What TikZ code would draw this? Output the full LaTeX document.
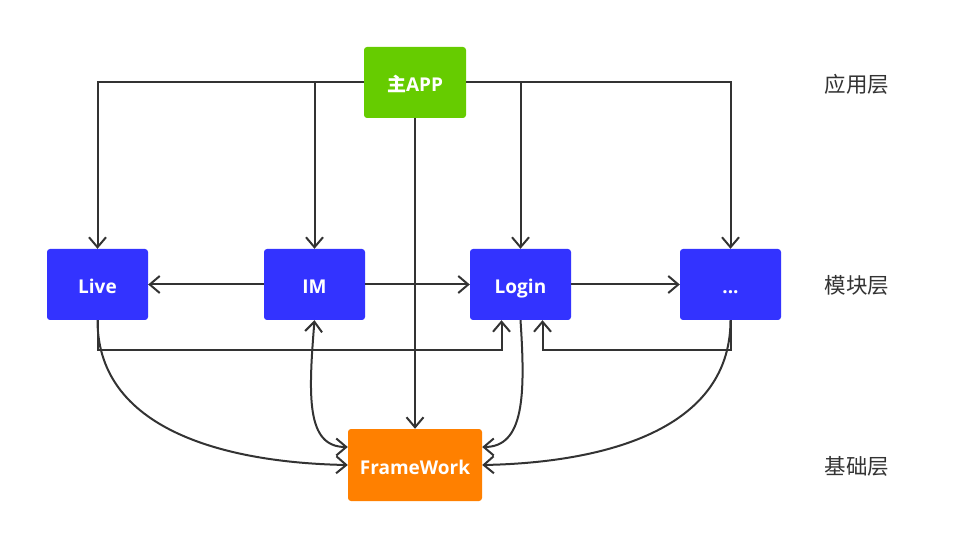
\documentclass[tikz,border=0pt]{standalone}
\usepackage{fontspec}
\setmainfont{Noto Sans CJK SC}
\newfontfamily\latinbold{Open Sans}
\usetikzlibrary{arrows.meta}
\definecolor{appgreen}{HTML}{66CC00}
\definecolor{modblue}{HTML}{3333FF}
\definecolor{fworange}{HTML}{FF8000}
\definecolor{linegray}{HTML}{333333}
\tikzset{
  box/.style={rounded corners=3pt, minimum width=101pt, minimum height=71pt, inner sep=0pt,
    text height=19pt, text depth=1pt,
    text=white, font=\fontsize{19}{22}\selectfont\bfseries},
  tipv/.tip={Straight Barb[length=10pt,width=17pt]},
  conn/.style={draw=linegray, line width=2pt, -tipv},
  bconn/.style={draw=linegray, line width=2pt, tipv-tipv},
  layer/.style={text=linegray, font=\fontsize{21.5}{25}\selectfont}
}
\begin{document}
\begin{tikzpicture}[x=1pt,y=1pt]
\useasboundingbox (0,0) rectangle (960,533);
\node[box, fill=appgreen, minimum width=102pt] (app) at (415,450.5) {主{\latinbold APP}};
\node[box, fill=modblue] (live) at (97.5,248.5) {\latinbold Live};
\node[box, fill=modblue] (im) at (314.5,248.5) {\latinbold IM};
\node[box, fill=modblue] (login) at (520.5,248.5) {\latinbold Login};
\node[box, fill=modblue] (dots) at (730.5,248.5) {\latinbold ...};
\node[box, fill=fworange, minimum width=134pt, minimum height=72pt] (fw) at (415,68) {\latinbold FrameWork};
\node[layer] (l1) at (857,449) {应用层};
\node[layer] (l2) at (857,248) {模块层};
\node[layer] (l3) at (857,67) {基础层};
% from app
\draw[conn] (app.west) -| (live.north);
\draw[conn] (app.west) -| (im.north);
\draw[conn] (app.east) -| (login.north);
\draw[conn] (app.east) -| (dots.north);
\draw[conn] (app.south) -- (fw.north);
% horizontal
\draw[conn] (im.west) -- (live.east);
\draw[conn] (im.east) -- (login.west);
\draw[conn] (login.east) -- (dots.west);
% orthogonal lower
\draw[conn] (live.south) -- ++(0,-30) -| ([xshift=-19]login.south);
\draw[conn] (dots.south) -- ++(0,-30) -| ([xshift=22]login.south);
% curves
\draw[conn] (live.south) .. controls +(0,-115) and +(-110,2) .. (fw.west);
\draw[bconn] (im.south) .. controls +(-6,-75) and +(-42,0) .. ([yshift=18]fw.north west |- fw.west);
\draw[conn] (login.south) .. controls +(5,-75) and +(42,0) .. ([yshift=18]fw.north east |- fw.east);
\draw[conn] (dots.south) .. controls +(0,-115) and +(110,2) .. (fw.east);
\end{tikzpicture}
\end{document}
